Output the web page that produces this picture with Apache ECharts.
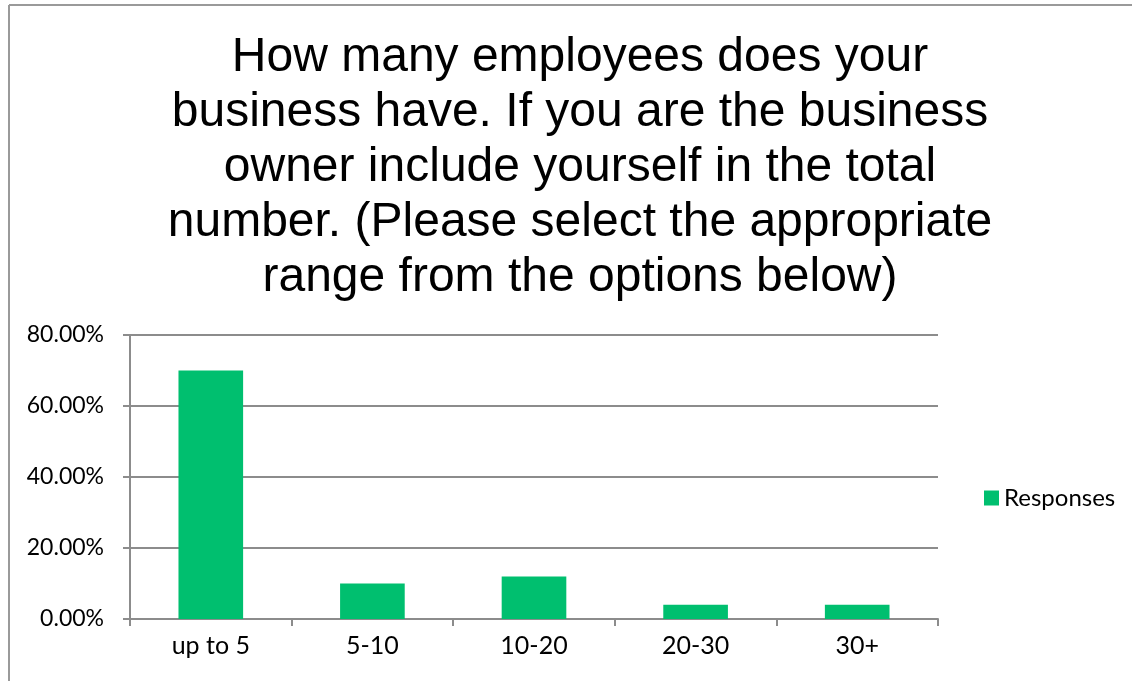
<!DOCTYPE html>
<html><head><meta charset="utf-8">
<script src="https://cdn.jsdelivr.net/npm/echarts@6/dist/echarts.min.js"></script>
<style>html,body{margin:0;padding:0;background:#fff}#c{width:1132px;height:681px}</style>
</head><body><div id="c"></div>
<script>
var titleText = "How many employees does your\nbusiness have. If you are the business\nowner include yourself in the total\nnumber. (Please select the appropriate\nrange from the options below)";
var categories = ["up to 5", "5-10", "10-20", "20-30", "30+"];
var responses = [70, 10, 12, 4, 4];
var seriesName = "Responses";
var yTicks = [0, 20, 40, 60, 80];

var chart = echarts.init(document.getElementById('c'), null, {renderer: 'canvas'});
var labelFont = 'Lato, "Open Sans", sans-serif';
chart.setOption({
  animation: false,
  backgroundColor: '#fff',
  title: {
    text: titleText,
    left: 575, top: 25,
    textAlign: 'center',
    textStyle: {fontFamily: '"Liberation Sans", Arial, sans-serif', fontSize: 48, fontWeight: 'normal', color: '#000', lineHeight: 55}
  },
  graphic: [
    {type: 'line', shape: {x1: 9, y1: 5, x2: 1132, y2: 5}, style: {stroke: '#9a9a9a', lineWidth: 2}},
    {type: 'line', shape: {x1: 9, y1: 5, x2: 9, y2: 681}, style: {stroke: '#9a9a9a', lineWidth: 2}}
  ],
  legend: {
    data: [seriesName],
    left: 979, top: 481,
    itemWidth: 15, itemHeight: 15, itemGap: 7,
    icon: 'rect',
    textStyle: {fontFamily: labelFont, fontSize: 24, color: '#000'}
  },
  grid: {left: 130, right: 194, top: 335, bottom: 62},
  xAxis: {
    type: 'category', data: categories,
    axisLine: {lineStyle: {color: '#8c8c8c', width: 2}},
    axisTick: {show: true, length: 7, lineStyle: {color: '#8c8c8c', width: 2}},
    axisLabel: {fontFamily: labelFont, fontSize: 25, color: '#000', margin: 14}
  },
  yAxis: {
    type: 'value', min: 0, max: 80, interval: 20,
    axisLine: {show: true, lineStyle: {color: '#8c8c8c', width: 2}},
    axisTick: {show: true, length: 7, lineStyle: {color: '#8c8c8c', width: 2}},
    splitLine: {lineStyle: {color: '#8c8c8c', width: 2}},
    axisLabel: {fontFamily: labelFont, fontSize: 23, color: '#000', margin: 26,
      formatter: function (v) { return v.toFixed(2) + '%'; }}
  },
  series: [{
    name: seriesName, type: 'bar', data: responses,
    barWidth: '40%',
    itemStyle: {color: '#00BF6F'}
  }]
});
</script></body></html>
